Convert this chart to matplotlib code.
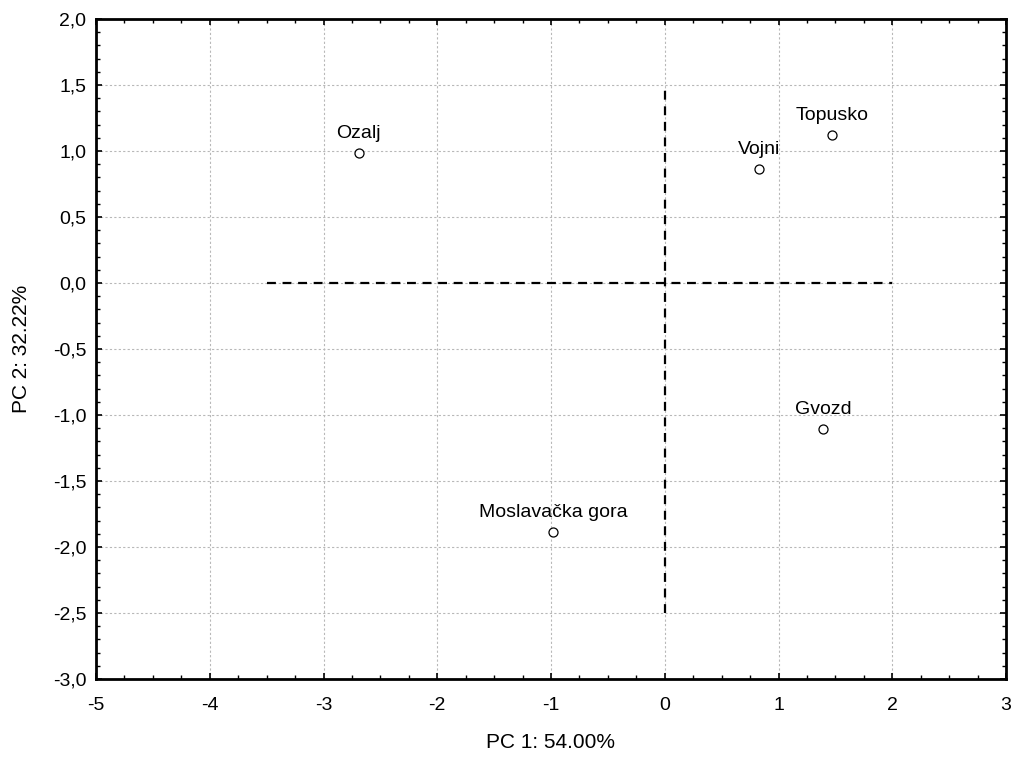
import numpy as np
import matplotlib
matplotlib.use('Agg')
import matplotlib.pyplot as plt
from matplotlib.ticker import MultipleLocator, FuncFormatter

plt.rcParams['font.family'] = ['Liberation Sans', 'DejaVu Sans']

sites = ['Ozalj', 'Topusko', 'Vojni', 'Moslavačka gora', 'Gvozd']
pc1 = [-2.69, 1.47, 0.83, -0.98, 1.39]
pc2 = [0.985, 1.12, 0.865, -1.885, -1.105]

# dashed reference lines through the origin
h_line_x = [-3.5, 2.0]
v_line_y = [-2.5, 1.5]

fig = plt.figure(figsize=(10.19, 7.62), dpi=100)
ax = fig.add_axes([96/1019, 1-679/762, (1006-96)/1019, (679-19)/762])

ax.plot(h_line_x, [0, 0], color='black', ls=(0, (4, 3)), lw=1.6)
ax.plot([0, 0], v_line_y, color='black', ls=(0, (4, 3)), lw=1.6)

ax.plot(pc1, pc2, 'o', mfc='white', mec='black', ms=6.5, mew=0.9, zorder=5)
for s, x, y in zip(sites, pc1, pc2):
    ax.annotate(s, (x, y), xytext=(0, 8), textcoords='offset points',
                ha='center', va='bottom', fontsize=14)

ax.set_xlim(-5, 3)
ax.set_ylim(-3, 2)
ax.xaxis.set_major_locator(MultipleLocator(1))
ax.xaxis.set_minor_locator(MultipleLocator(0.25))
ax.yaxis.set_major_locator(MultipleLocator(0.5))
ax.yaxis.set_minor_locator(MultipleLocator(0.1))
ax.yaxis.set_major_formatter(FuncFormatter(lambda v, p: ('%.1f' % v).replace('.', ',')))
ax.xaxis.set_major_formatter(FuncFormatter(lambda v, p: '%d' % round(v)))

ax.grid(True, which='major', color='#b8b8b8', ls=(0, (2, 2)), lw=0.8)
ax.set_axisbelow(True)
ax.tick_params(which='both', direction='in', top=True, right=True,
               labeltop=False, labelright=False, labelsize=14, color='black')
ax.tick_params(which='major', length=4, width=1.2)
ax.tick_params(axis='x', which='major', pad=13)
ax.tick_params(axis='y', which='major', pad=7)
ax.tick_params(which='minor', length=3, width=1.0)
for sp in ax.spines.values():
    sp.set_linewidth(2)

ax.set_xlabel('PC 1: 54.00%', fontsize=15, labelpad=14)
ax.set_ylabel('PC 2: 32.22%', fontsize=15, labelpad=16)

plt.savefig('out.png', dpi=100)
